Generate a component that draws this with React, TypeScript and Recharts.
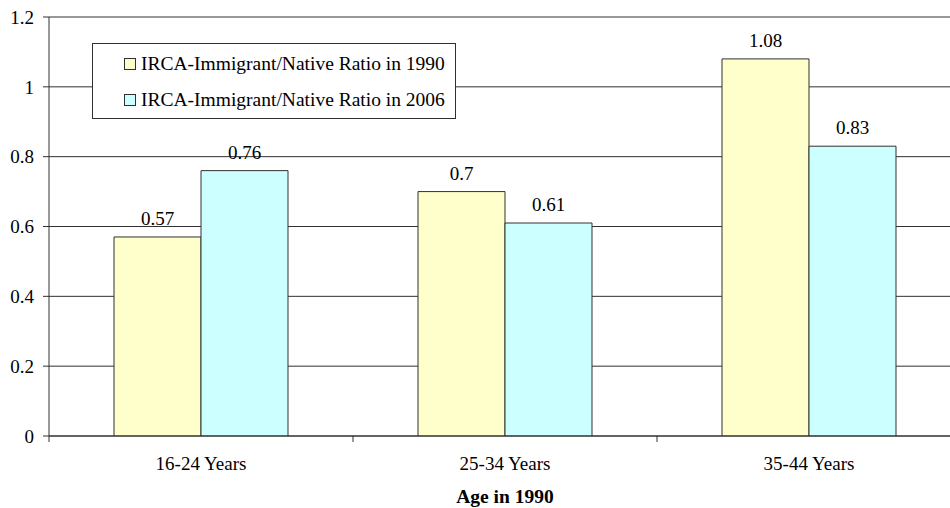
import React from "react";
import { BarChart, Bar, XAxis, YAxis, CartesianGrid, Legend, LabelList } from "recharts";

const categories = ["16-24 Years", "25-34 Years", "35-44 Years"];
const ratio1990 = [0.57, 0.7, 1.08];
const ratio2006 = [0.76, 0.61, 0.83];
const yTicks = [0, 0.2, 0.4, 0.6, 0.8, 1, 1.2];
const seriesNames = ["IRCA-Immigrant/Native Ratio in 1990", "IRCA-Immigrant/Native Ratio in 2006"];

const data = categories.map((c, i) => ({ cat: c, r1990: ratio1990[i], r2006: ratio2006[i] }));

const FONT = "'Liberation Serif', 'Times New Roman', serif";
const LINE = "#303030";

// category label plus the boundary tick marks (ticks sit between groups, not under them)
function CategoryTick(props: any) {
  const { x, y, payload, index, visibleTicksCount } = props;
  const half = payload && payload.offset ? payload.offset : 152;
  const axisY = y - 21;
  return (
    <g>
      <line x1={x - half} x2={x - half} y1={axisY} y2={axisY + 6} stroke={LINE} />
      {index === visibleTicksCount - 1 && (
        <line x1={x + half} x2={x + half} y1={axisY} y2={axisY + 6} stroke={LINE} />
      )}
      <text x={x} y={y} dy="0.71em" textAnchor="middle" fontSize={19} fontFamily={FONT} fill="#000">
        {payload.value}
      </text>
    </g>
  );
}

function LegendBox(props: any) {
  const items = props.payload || [];
  return (
    <div
      style={{
        border: `1px solid ${LINE}`,
        background: "#fff",
        padding: "2px 10px 0 31px",
        fontFamily: FONT,
        fontSize: 19.5,
        color: "#000",
      }}
    >
      {items.map((it: any) => (
        <div key={it.value} style={{ height: 36, lineHeight: "36px", display: "flex", alignItems: "center", whiteSpace: "nowrap" }}>
          <span
            style={{
              display: "inline-block",
              width: 10,
              height: 10,
              border: `1px solid ${LINE}`,
              background: it.color,
              marginRight: 5,
            }}
          />
          {it.value}
        </div>
      ))}
    </div>
  );
}

export default function App() {
  return (
    <div style={{ position: "absolute", left: 0, top: 0, width: 950, height: 508, overflow: "hidden", background: "#fff", fontFamily: FONT }}>
      <BarChart
        width={961}
        height={508}
        data={data}
        margin={{ top: 17, right: 0, bottom: 0, left: 0 }}
        barCategoryGap={65}
        barGap={0}
        style={{ fontFamily: FONT }}
      >
        <CartesianGrid vertical={false} stroke={LINE} strokeOpacity={1} />
        <XAxis
          dataKey="cat"
          height={72}
          tickLine={false}
          tickSize={6}
          tickMargin={15}
          axisLine={{ stroke: LINE }}
          tick={<CategoryTick />}
          interval={0}
          label={{
            value: "Age in 1990",
            position: "insideBottom",
            offset: 5,
            fontSize: 19.5,
            fontWeight: "bold",
            fontFamily: FONT,
            fill: "#000",
          }}
        />
        <YAxis
          width={49}
          domain={[0, 1.2]}
          ticks={yTicks}
          tickSize={6}
          tickMargin={9}
          tickLine={{ stroke: LINE }}
          axisLine={{ stroke: LINE }}
          tick={{ fontSize: 19, fill: "#000", fontFamily: FONT }}
          allowDataOverflow
        />
        <Legend
          layout="vertical"
          align="center"
          verticalAlign="middle"
          wrapperStyle={{ left: 92, top: 43, width: "auto" }}
          content={<LegendBox />}
        />
        <Bar dataKey="r1990" name={seriesNames[0]} fill="#FFFFCC" stroke={LINE} strokeWidth={1} isAnimationActive={false}>
          <LabelList dataKey="r1990" position="top" offset={12} fontSize={19} fontFamily={FONT} fill="#000" />
        </Bar>
        <Bar dataKey="r2006" name={seriesNames[1]} fill="#CCFFFF" stroke={LINE} strokeWidth={1} isAnimationActive={false}>
          <LabelList dataKey="r2006" position="top" offset={12} fontSize={19} fontFamily={FONT} fill="#000" />
        </Bar>
      </BarChart>
    </div>
  );
}
